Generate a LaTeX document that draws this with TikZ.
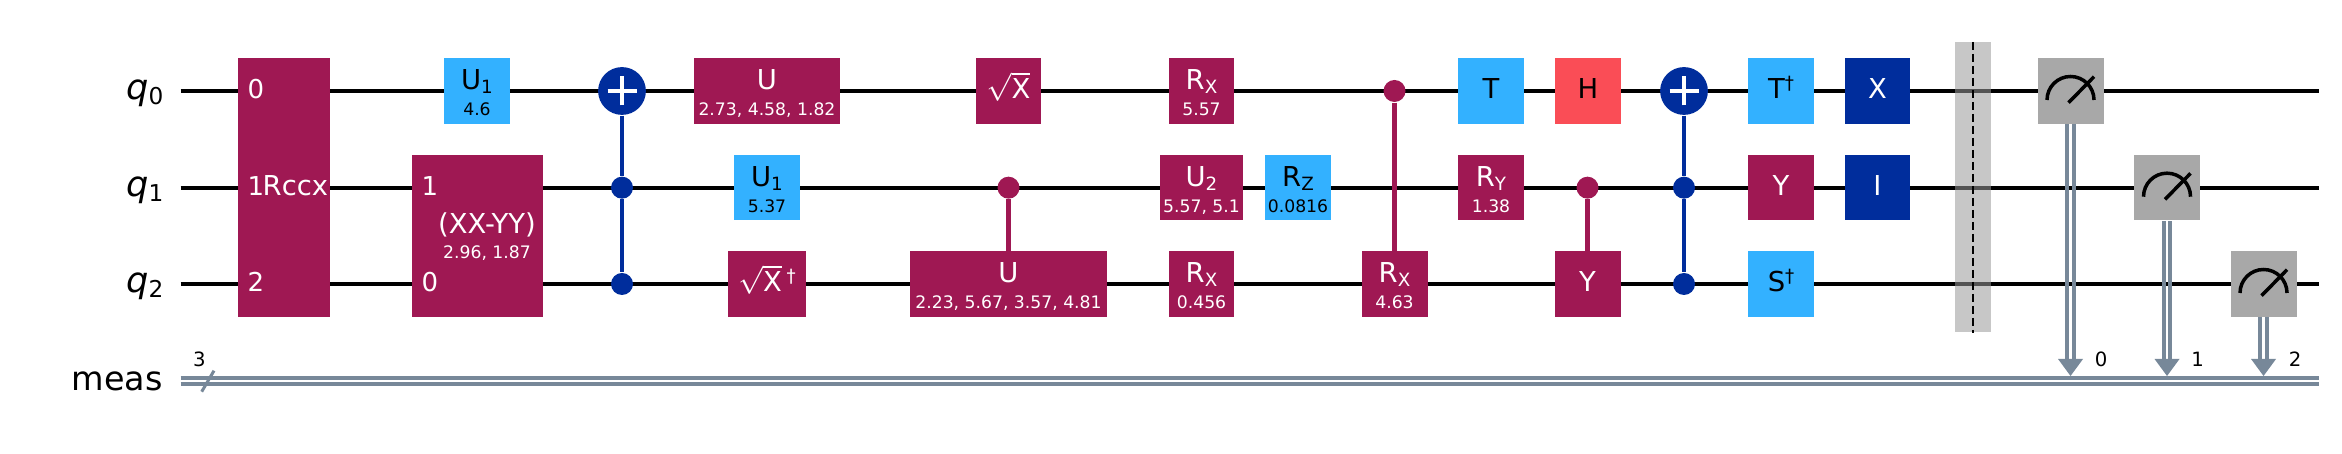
\documentclass[tikz,border=0pt]{standalone}
\usepackage{fontspec}
\setmainfont{DejaVu Sans}
\usetikzlibrary{positioning}
\definecolor{mauve}{HTML}{9F1853}
\definecolor{skyb}{HTML}{33B1FF}
\definecolor{coral}{HTML}{FA4D56}
\definecolor{navy}{HTML}{002D9C}
\definecolor{meter}{HTML}{A8A8A8}
\definecolor{slate}{HTML}{778899}
\newcommand{\subidx}[1]{\raisebox{-0.035cm}{\fontsize{5.2}{6}\selectfont #1}}
\newcommand{\regidx}[1]{\raisebox{-0.05cm}{\fontsize{6.6}{8}\selectfont\upshape #1}}
\newcommand{\dagidx}{\raisebox{0.09cm}{\fontsize{5.2}{6}\selectfont †}}
\tikzset{
  wire/.style={draw=black,line width=0.042cm},
  cwire/.style={draw=slate,line width=0.038cm},
  gate/.style={rectangle,inner sep=0pt,minimum height=0.655cm},
  mauvegate/.style={gate,fill=mauve},
  skygate/.style={gate,fill=skyb},
  navygate/.style={gate,fill=navy},
  title/.style={font=\fontsize{7.8}{9}\selectfont,anchor=base,inner sep=0pt},
  param/.style={font=\fontsize{4.9}{6}\selectfont,anchor=base,inner sep=0pt},
  reglabel/.style={font=\fontsize{9.5}{11}\selectfont,anchor=base east,inner sep=0pt},
  qlabel/.style={font=\fontsize{10}{12}\selectfont\itshape,anchor=base east,inner sep=0pt},
  qubitlabel/.style={font=\fontsize{7.4}{9}\selectfont,anchor=base west,inner sep=0pt,text=white},
  bitlabel/.style={font=\fontsize{5.6}{7}\selectfont,anchor=base,inner sep=0pt},
  ctrl/.style={circle,fill=#1,inner sep=0pt,minimum size=0.22cm},
  target/.style={circle,fill=navy,inner sep=0pt,minimum size=0.478cm},
  ctrlline/.style={draw=#1,line width=0.042cm}
}
\begin{document}
\begin{tikzpicture}
\useasboundingbox (0,0) rectangle (23.42,4.54);
\coordinate (q0s) at (1.806,3.63);
\coordinate (q0e) at (23.19,3.63);
\coordinate (q1s) at (1.806,2.663);
\coordinate (q1e) at (23.19,2.663);
\coordinate (q2s) at (1.806,1.70);
\coordinate (q2e) at (23.19,1.70);
\coordinate (c0s) at (1.806,0.76);
\coordinate (c0e) at (23.19,0.76);
\coordinate (c1s) at (1.806,0.70);
\coordinate (c1e) at (23.19,0.70);
\draw[wire] (q0s) -- (q0e);
\draw[wire] (q1s) -- (q1e);
\draw[wire] (q2s) -- (q2e);
\draw[cwire] (c0s) -- (c0e);
\draw[cwire] (c1s) -- (c1e);

% register labels
\node[qlabel] (lq0) at (1.64,3.543) {q\regidx{0}};
\node[qlabel] (lq1) at (1.64,2.576) {q\regidx{1}};
\node[qlabel] (lq2) at (1.64,1.613) {q\regidx{2}};
\node[reglabel] (lmeas) at (1.635,0.63) {meas};
\node[bitlabel] (nbits) at (1.995,0.87) {3};
\coordinate (sl0) at (2.017,0.623);
\coordinate (sl1) at (2.14,0.833);
\draw[draw=slate,line width=0.03cm] (sl0) -- (sl1);

% rccx and xx-yy
\node[mauvegate,minimum width=0.92cm,minimum height=2.59cm] (rccx) at (2.84,2.66) {};
\node[qubitlabel] (rccx0) at (2.47,3.55) {0};
\node[qubitlabel] (rccx1) at (2.47,2.58) {1};
\node[title,text=white,anchor=base west] (rccxt) at (2.62,2.58) {Rccx};
\node[qubitlabel] (rccx2) at (2.47,1.62) {2};
\node[skygate,minimum width=0.66cm] (ua) at (4.77,3.63) {};
\node[title] (uat) at (4.77,3.64) {U\subidx{1}};
\node[param] (uap) at (4.77,3.38) {4.6};
\node[mauvegate,minimum width=1.31cm,minimum height=1.62cm] (xxyy) at (4.775,2.18) {};
\node[qubitlabel] (xxyy1) at (4.21,2.58) {1};
\node[qubitlabel] (xxyy0) at (4.21,1.62) {0};
\node[title,text=white] (xxyyt) at (4.87,2.20) {(XX-YY)};
\node[param,text=white] (xxyyp) at (4.87,1.95) {2.96, 1.87};

% first ccx
\node[target] (cxa) at (6.22,3.63) {};
\node[ctrl=navy] (cxa1) at (6.22,2.663) {};
\node[ctrl=navy] (cxa2) at (6.22,1.70) {};
\draw[ctrlline=navy] (cxa) -- (cxa1);
\draw[ctrlline=navy] (cxa1) -- (cxa2);
\draw[draw=white,line width=0.042cm] ([xshift=-0.145cm]cxa.center) -- ([xshift=0.145cm]cxa.center);
\draw[draw=white,line width=0.042cm] ([yshift=-0.145cm]cxa.center) -- ([yshift=0.145cm]cxa.center);

\node[mauvegate,minimum width=1.46cm] (ub) at (7.67,3.63) {};
\node[title,text=white] (ubt) at (7.67,3.64) {U};
\node[param,text=white] (ubp) at (7.67,3.38) {2.73, 4.58, 1.82};
\node[skygate,minimum width=0.66cm] (uc) at (7.67,2.663) {};
\node[title] (uct) at (7.67,2.673) {U\subidx{1}};
\node[param] (ucp) at (7.67,2.413) {5.37};
\node[mauvegate,minimum width=0.78cm] (sxdg) at (7.67,1.70) {};
\node[title,text=white] (sxdgt) at (7.67,1.62) {$\sqrt{\mathrm{X}}$\,\dagidx};
\node[mauvegate,minimum width=0.65cm] (sx) at (10.085,3.63) {};
\node[title,text=white] (sxt) at (10.085,3.55) {$\sqrt{\mathrm{X}}$};

% cu
\node[ctrl=mauve] (cud) at (10.085,2.663) {};
\node[mauvegate,minimum width=1.97cm] (cu) at (10.085,1.70) {};
\draw[ctrlline=mauve] (cud) -- (cu);
\node[title,text=white] (cut) at (10.085,1.71) {U};
\node[param,text=white] (cup) at (10.085,1.45) {2.23, 5.67, 3.57, 4.81};

\node[mauvegate,minimum width=0.65cm] (rxa) at (12.015,3.63) {};
\node[title,text=white] (rxat) at (12.015,3.64) {R\subidx{X}};
\node[param,text=white] (rxap) at (12.015,3.38) {5.57};
\node[mauvegate,minimum width=0.83cm] (ud) at (12.015,2.663) {};
\node[title,text=white] (udt) at (12.015,2.673) {U\subidx{2}};
\node[param,text=white] (udp) at (12.015,2.413) {5.57, 5.1};
\node[mauvegate,minimum width=0.65cm] (rxb) at (12.015,1.70) {};
\node[title,text=white] (rxbt) at (12.015,1.71) {R\subidx{X}};
\node[param,text=white] (rxbp) at (12.015,1.45) {0.456};
\node[skygate,minimum width=0.66cm] (rz) at (12.98,2.663) {};
\node[title] (rzt) at (12.98,2.673) {R\subidx{Z}};
\node[param] (rzp) at (12.98,2.413) {0.0816};

% crx
\node[ctrl=mauve] (crxd) at (13.945,3.63) {};
\node[mauvegate,minimum width=0.66cm] (crx) at (13.945,1.70) {};
\draw[ctrlline=mauve] (crxd) -- (crx);
\node[title,text=white] (crxt) at (13.945,1.71) {R\subidx{X}};
\node[param,text=white] (crxp) at (13.945,1.45) {4.63};

\node[skygate,minimum width=0.66cm] (tg) at (14.91,3.63) {};
\node[title] (tgt) at (14.91,3.55) {T};
\node[mauvegate,minimum width=0.66cm] (ry) at (14.91,2.663) {};
\node[title,text=white] (ryt) at (14.91,2.673) {R\subidx{Y}};
\node[param,text=white] (ryp) at (14.91,2.413) {1.38};
\node[gate,fill=coral,minimum width=0.66cm] (hg) at (15.88,3.63) {};
\node[title] (hgt) at (15.88,3.55) {H};

% cy
\node[ctrl=mauve] (cyd) at (15.875,2.663) {};
\node[mauvegate,minimum width=0.66cm] (cy) at (15.875,1.70) {};
\draw[ctrlline=mauve] (cyd) -- (cy);
\node[title,text=white] (cyt) at (15.875,1.62) {Y};

% second ccx
\node[target] (cxb) at (16.84,3.63) {};
\node[ctrl=navy] (cxb1) at (16.84,2.663) {};
\node[ctrl=navy] (cxb2) at (16.84,1.70) {};
\draw[ctrlline=navy] (cxb) -- (cxb1);
\draw[ctrlline=navy] (cxb1) -- (cxb2);
\draw[draw=white,line width=0.042cm] ([xshift=-0.145cm]cxb.center) -- ([xshift=0.145cm]cxb.center);
\draw[draw=white,line width=0.042cm] ([yshift=-0.145cm]cxb.center) -- ([yshift=0.145cm]cxb.center);

\node[skygate,minimum width=0.66cm] (tdg) at (17.81,3.63) {};
\node[title] (tdgt) at (17.81,3.55) {T\dagidx};
\node[mauvegate,minimum width=0.66cm] (yg) at (17.81,2.663) {};
\node[title,text=white] (ygt) at (17.81,2.58) {Y};
\node[skygate,minimum width=0.66cm] (sdg) at (17.81,1.70) {};
\node[title] (sdgt) at (17.81,1.62) {S\dagidx};
\node[navygate,minimum width=0.65cm] (xg) at (18.775,3.63) {};
\node[title,text=white] (xgt) at (18.775,3.55) {X};
\node[navygate,minimum width=0.65cm] (ig) at (18.775,2.663) {};
\node[title,text=white] (igt) at (18.775,2.58) {I};

% barrier
\node[rectangle,fill=black!40,opacity=0.55,inner sep=0pt,minimum width=0.365cm,minimum height=2.90cm] (barrier) at (19.73,2.665) {};
\draw[draw=black,line width=0.02cm,dash pattern=on 0.08cm off 0.04cm] (barrier.north) -- (barrier.south);

% measures
\node[gate,fill=meter,minimum width=0.66cm] (ma) at (20.705,3.63) {};
\node[gate,fill=meter,minimum width=0.66cm] (mb) at (21.67,2.663) {};
\node[gate,fill=meter,minimum width=0.66cm] (mc) at (22.635,1.70) {};
\coordinate (ta) at (20.705,0.78);
\coordinate (tb) at (21.67,0.78);
\coordinate (tc) at (22.635,0.78);
\draw[cwire] ([xshift=-0.032cm]ma.south) -- ([xshift=-0.032cm,yshift=0.15cm]ta);
\draw[cwire] ([xshift=0.032cm]ma.south) -- ([xshift=0.032cm,yshift=0.15cm]ta);
\draw[cwire] ([xshift=-0.032cm]mb.south) -- ([xshift=-0.032cm,yshift=0.15cm]tb);
\draw[cwire] ([xshift=0.032cm]mb.south) -- ([xshift=0.032cm,yshift=0.15cm]tb);
\draw[cwire] ([xshift=-0.032cm]mc.south) -- ([xshift=-0.032cm,yshift=0.15cm]tc);
\draw[cwire] ([xshift=0.032cm]mc.south) -- ([xshift=0.032cm,yshift=0.15cm]tc);
\fill[slate] (ta) -- ++(-0.125,0.17) -- ++(0.25,0) -- cycle;
\fill[slate] (tb) -- ++(-0.125,0.17) -- ++(0.25,0) -- cycle;
\fill[slate] (tc) -- ++(-0.125,0.17) -- ++(0.25,0) -- cycle;
\draw[line width=0.035cm] ([xshift=-0.235cm,yshift=-0.09cm]ma.center) arc (180:0:0.235);
\draw[line width=0.035cm] ([xshift=-0.02cm,yshift=-0.117cm]ma.center) -- ([xshift=0.235cm,yshift=0.143cm]ma.center);
\draw[line width=0.035cm] ([xshift=-0.235cm,yshift=-0.09cm]mb.center) arc (180:0:0.235);
\draw[line width=0.035cm] ([xshift=-0.02cm,yshift=-0.117cm]mb.center) -- ([xshift=0.235cm,yshift=0.143cm]mb.center);
\draw[line width=0.035cm] ([xshift=-0.235cm,yshift=-0.09cm]mc.center) arc (180:0:0.235);
\draw[line width=0.035cm] ([xshift=-0.02cm,yshift=-0.117cm]mc.center) -- ([xshift=0.235cm,yshift=0.143cm]mc.center);
\node[bitlabel] (la) at (21.01,0.87) {0};
\node[bitlabel] (lb) at (21.975,0.87) {1};
\node[bitlabel] (lc) at (22.95,0.87) {2};
\end{tikzpicture}
\end{document}
